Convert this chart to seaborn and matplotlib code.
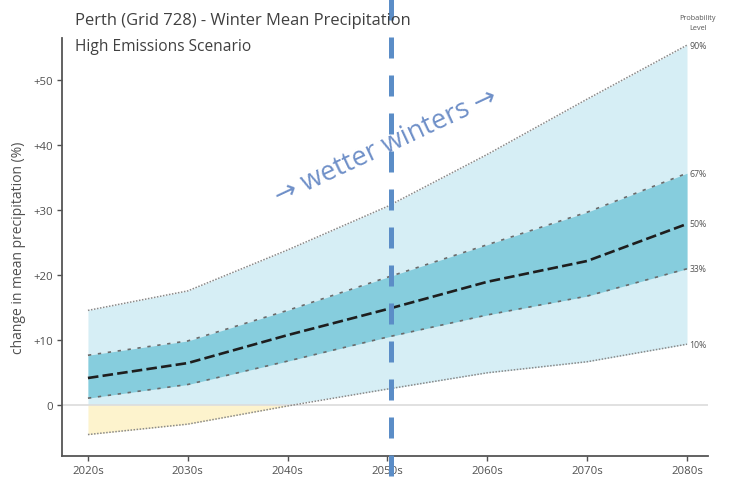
import numpy as np
import pandas as pd
import matplotlib
matplotlib.use("Agg")
import matplotlib.pyplot as plt
import matplotlib.transforms as mtransforms
import seaborn as sns

# Projected change in winter mean precipitation (%), by probability level
decades = ["2020s", "2030s", "2040s", "2050s", "2060s", "2070s", "2080s"]
p10 = [-4.6, -3.0, -0.2, 2.4, 4.9, 6.6, 9.3]
p33 = [1.0, 3.1, 6.7, 10.4, 13.8, 16.7, 20.9]
p50 = [4.1, 6.4, 10.7, 14.7, 18.9, 22.1, 27.8]
p67 = [7.6, 9.8, 14.5, 19.6, 24.6, 29.6, 35.6]
p90 = [14.5, 17.5, 23.8, 30.5, 38.5, 47.0, 55.3]
yticks = [0, 10, 20, 30, 40, 50]
ytick_labels = ["0", "+10", "+20", "+30", "+40", "+50"]
level_labels = ["90%", "67%", "50%", "33%", "10%"]

df = pd.DataFrame({"pos": np.arange(len(decades)), "decade": decades,
                   "p10": p10, "p33": p33, "p50": p50, "p67": p67, "p90": p90})

sns.set_style("white")
plt.rcParams["font.family"] = ["Open Sans", "DejaVu Sans"]

fig = plt.figure(figsize=(7.31, 4.85), dpi=100)
ax = fig.add_axes([0.0848, 0.0577, 0.8837, 0.8619])

x = df["pos"].to_numpy()
lo = df["p10"].to_numpy()
zero = np.zeros_like(lo)

# Outer (10-90%) band: blue above zero, pale yellow for the drying part below zero
ax.fill_between(x, np.maximum(lo, 0), df["p90"], color="#d6eef5", lw=0, zorder=1)
ax.fill_between(x, lo, zero, where=lo < 0, interpolate=True,
                color="#fdf3cd", lw=0, zorder=1)
# Central (33-67%) band
ax.fill_between(x, df["p33"], df["p67"], color="#86cddd", lw=0, zorder=2)

ax.axhline(0, color="#dcdcdc", lw=1.2, zorder=1.5)

sns.lineplot(data=df, x="pos", y="p90", ax=ax, color="#8a8a8a", lw=1.1,
             linestyle=(0, (1, 1)), zorder=3)
sns.lineplot(data=df, x="pos", y="p10", ax=ax, color="#8a8a8a", lw=1.1,
             linestyle=(0, (1, 1)), zorder=3)
sns.lineplot(data=df, x="pos", y="p67", ax=ax, color="#6a6a6a", lw=1.2,
             linestyle=(0, (2, 4)), zorder=3)
sns.lineplot(data=df, x="pos", y="p33", ax=ax, color="#6a6a6a", lw=1.2,
             linestyle=(0, (2, 4)), zorder=3)
sns.lineplot(data=df, x="pos", y="p50", ax=ax, color="#1e1e1e", lw=1.9,
             linestyle=(0, (4, 1.6)), zorder=4)

ax.set_xlim(-0.26, 6.21)
ax.set_ylim(-7.9, 56.4)
ax.set_xticks(x)
ax.set_xticklabels(decades)
ax.set_yticks(yticks)
ax.set_yticklabels(ytick_labels)
ax.set_xlabel("")
ax.set_ylabel("change in mean precipitation (%)", fontsize=10, color="#505050", labelpad=5)
ax.tick_params(axis="both", labelsize=8.2, colors="#505050", length=3.5, width=1,
               direction="out", pad=3, left=True, bottom=True)
for side in ["top", "right"]:
    ax.spines[side].set_visible(False)
for side in ["left", "bottom"]:
    ax.spines[side].set_color("#555555")
    ax.spines[side].set_linewidth(1.3)

# Probability level labels at the end of each line
ends = [p90[-1], p67[-1], p50[-1], p33[-1], p10[-1]]
for lab, yv in zip(level_labels, ends):
    ax.text(6.11, yv, lab, fontsize=6.3, color="#555555", ha="center", va="center",
            clip_on=False)
ax.text(6.11, 58.8, "Probability\nLevel", fontsize=5.2, color="#555555",
        ha="center", va="center", linespacing=1.5, clip_on=False)

# Titles
fig.text(0.1026, 0.957, "Perth (Grid 728) - Winter Mean Precipitation",
         fontsize=11.9, color="#404040", ha="left", va="center")
fig.text(0.1026, 0.903, "High Emissions Scenario",
         fontsize=11.2, color="#404040", ha="left", va="center")

# Mid-century marker spanning the full figure height
trans = mtransforms.blended_transform_factory(ax.transData, fig.transFigure)
ax.plot([3.04, 3.04], [1, 0], transform=trans, color="#5b8dc7", lw=3.6,
        linestyle=(0, (4.2, 3.4)), solid_capstyle="butt", clip_on=False, zorder=6)

ax.text(2.98, 39.8, "\u2192 wetter winters \u2192", fontsize=19.5, color="#6f90c8",
        rotation=25, rotation_mode="anchor", ha="center", va="center",
        family=["Open Sans", "DejaVu Sans"], zorder=7)

fig.savefig("out.png", dpi=100)
